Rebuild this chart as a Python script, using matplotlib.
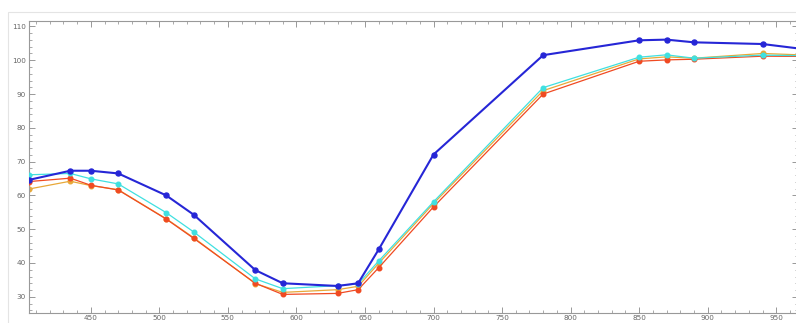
import numpy as np
import matplotlib
matplotlib.use("Agg")
import matplotlib.pyplot as plt
from matplotlib.ticker import MultipleLocator
from matplotlib.patches import Rectangle

# wavelengths (nm) and the four measured curves
wavelength = [405, 435, 450, 470, 505, 525, 570, 590, 630, 645, 660, 700, 780, 850, 870, 890, 940, 980]
blue_vals = [64.6, 67.3, 67.3, 66.5, 60.0, 54.3, 37.9, 34.0, 33.2, 34.0, 44.0, 72.1, 101.5, 105.9, 106.1, 105.3, 104.8, 102.8]
cyan_vals = [66.1, 66.5, 64.9, 63.4, 54.9, 49.2, 35.3, 32.4, 33.3, 33.8, 40.6, 58.1, 91.9, 100.9, 101.6, 100.6, 101.5, 101.3]
orange_vals = [61.9, 64.2, 62.9, 61.7, 53.1, 47.5, 33.9, 31.3, 32.1, 33.1, 39.9, 57.6, 91.0, 100.4, 101.0, 100.6, 102.0, 101.4]
red_vals = [64.1, 65.1, 63.0, 61.6, 53.0, 47.3, 34.0, 30.7, 31.0, 32.1, 38.6, 56.6, 90.0, 99.7, 100.1, 100.3, 101.2, 101.1]

fig = plt.figure(figsize=(7.96, 3.23), dpi=100)
# faint screenshot border
fig.patches.append(Rectangle((8 / 796, -0.1), 1.0, (323 - 12) / 323 + 0.1,
                             transform=fig.transFigure, fill=False,
                             edgecolor="#e4e4e4", linewidth=0.8))
ax = fig.add_axes([29 / 796, 10 / 323, 1 - 29 / 796 + 0.002, (313 - 20.7) / 323])

ax.plot(wavelength, orange_vals, "-o", color="#e8a838", lw=0.9, ms=3.3, zorder=2)
ax.plot(wavelength, red_vals, "-o", color="#f04a22", lw=0.9, ms=3.3, zorder=3)
ax.plot(wavelength, cyan_vals, "-o", color="#40e0e0", lw=0.9, ms=3.3, zorder=4)
ax.plot(wavelength, blue_vals, "-o", color="#2626d6", lw=1.5, ms=3.6, zorder=5)

ax.set_xlim(404.9, 965.6)
ax.set_ylim(25.2, 111.7)
ax.xaxis.set_major_locator(MultipleLocator(50))
ax.xaxis.set_minor_locator(MultipleLocator(10))
ax.yaxis.set_major_locator(MultipleLocator(10))
ax.yaxis.set_minor_locator(MultipleLocator(2))
ax.tick_params(which="both", direction="in", top=True, right=True,
               colors="#888888", labelcolor="#666666", labelsize=5.2)
ax.tick_params(axis="x", pad=1.5)
ax.tick_params(axis="y", pad=2.5)
ax.tick_params(which="major", length=4, width=0.6)
ax.tick_params(which="minor", length=2, width=0.5)
for s in ax.spines.values():
    s.set_color("#999999")
    s.set_linewidth(0.8)

fig.savefig("out.png", dpi=100)
